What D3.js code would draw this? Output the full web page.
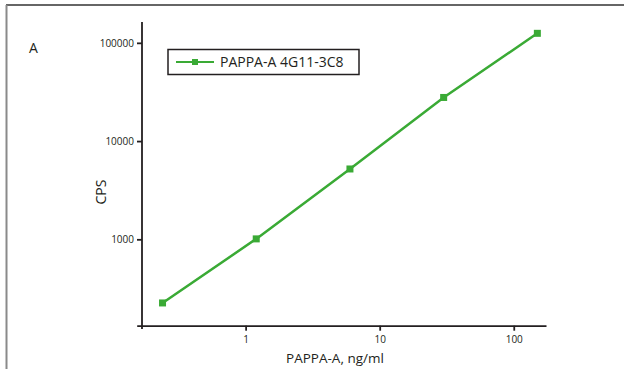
<!DOCTYPE html>
<html lang="en">
<head>
    <meta charset="UTF-8">
    <title>PAPPA-A calibration curve</title>
    <script src="https://d3js.org/d3.v7.min.js"></script>
    <style>
        body { margin: 0; background: #fff; }
        svg text { font-family: "Open Sans", "Liberation Sans", sans-serif; fill: #231f20; }
        .axis path, .axis line { stroke: #231f20; stroke-width: 1.8; }
        .axis text { font-size: 10px; }
    </style>
</head>
<body>
    <div id="chart"></div>
    <script>
        // concentration (ng/ml) and signal (CPS)
        const conc = [0.24, 1.2, 6, 30, 150];
        const cps = [225, 1010, 5200, 27800, 125000];
        const xTicks = [1, 10, 100];
        const yTicks = [1000, 10000, 100000];
        const seriesName = "PAPPA-A 4G11-3C8";

        const W = 624, H = 369;
        const green = "#3aaa35";

        const svg = d3.select("#chart").append("svg")
            .attr("width", W)
            .attr("height", H);

        // panel frame (top and left edges only)
        svg.append("line").attr("x1", 6).attr("x2", W).attr("y1", 5).attr("y2", 5)
            .attr("stroke", "#333").attr("stroke-width", 1.5);
        svg.append("line").attr("x1", 6.5).attr("x2", 6.5).attr("y1", 5).attr("y2", H)
            .attr("stroke", "#8a8a8a").attr("stroke-width", 2);

        svg.append("text").attr("x", 29).attr("y", 53)
            .style("font-size", "14px").text("A");

        // scales
        const x = d3.scaleLog().domain([0.154, 174]).range([136.7, 546]);
        const y = d3.scaleLog().domain([132, 163000]).range([325.7, 22]);

        // axes
        const xAxis = d3.axisBottom(x).tickValues(xTicks).tickFormat(d3.format("d")).tickSize(5).tickPadding(5).tickSizeOuter(0);
        const yAxis = d3.axisLeft(y).tickValues(yTicks).tickFormat(d3.format("d")).tickSize(5).tickPadding(3).tickSizeOuter(0);

        svg.append("g").attr("class", "axis")
            .attr("transform", "translate(0,325.7)")
            .call(xAxis);

        svg.append("g").attr("class", "axis")
            .attr("transform", "translate(142,0)")
            .call(yAxis)
            .select(".domain").attr("d", "M0,22V329");

        // axis titles
        svg.append("text").attr("x", 335).attr("y", 363)
            .attr("text-anchor", "middle").style("font-size", "13.5px")
            .text("PAPPA-A, ng/ml");

        svg.append("text")
            .attr("transform", "translate(106,192) rotate(-90)")
            .attr("text-anchor", "middle").style("font-size", "14px")
            .text("CPS");

        // series
        const pts = conc.map((c, i) => [c, cps[i]]);
        svg.append("path")
            .datum(pts)
            .attr("fill", "none")
            .attr("stroke", green)
            .attr("stroke-width", 2.5)
            .attr("d", d3.line().x(d => x(d[0])).y(d => y(d[1])));

        svg.selectAll(".pt").data(pts).enter().append("rect")
            .attr("class", "pt")
            .attr("x", d => x(d[0]) - 3.5)
            .attr("y", d => y(d[1]) - 3.5)
            .attr("width", 7).attr("height", 7)
            .attr("fill", green);

        // legend
        const lg = svg.append("g").attr("transform", "translate(168,49.5)");
        lg.append("rect").attr("width", 191).attr("height", 25)
            .attr("fill", "#fff").attr("stroke", "#231f20").attr("stroke-width", 1.5);
        lg.append("line").attr("x1", 8).attr("x2", 46).attr("y1", 12.5).attr("y2", 12.5)
            .attr("stroke", green).attr("stroke-width", 2);
        lg.append("rect").attr("x", 24).attr("y", 9.5).attr("width", 6).attr("height", 6).attr("fill", green);
        lg.append("text").attr("x", 52).attr("y", 17.5)
            .style("font-size", "14px").text(seriesName);
    </script>
</body>
</html>
